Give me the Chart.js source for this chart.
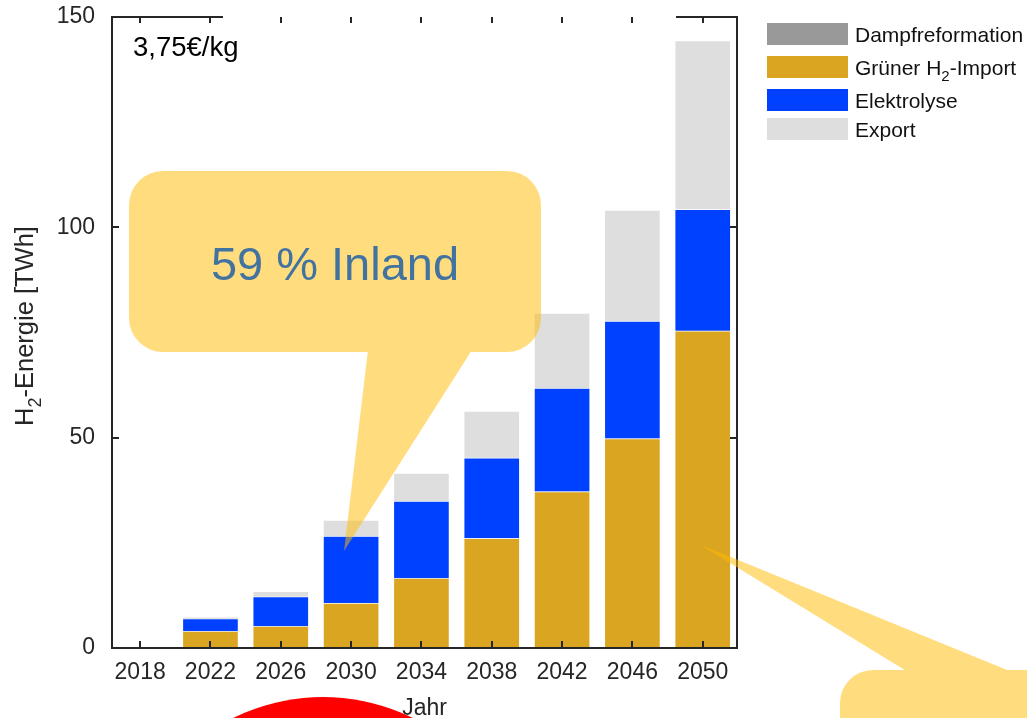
<!DOCTYPE html>
<html>
<head>
<meta charset="utf-8">
<script src="https://cdn.jsdelivr.net/npm/chart.js@4.4.1/dist/chart.umd.min.js"></script>
<style>
  html, body { margin: 0; padding: 0; background: #fff; }
  #wrap { position: relative; width: 1027px; height: 718px; overflow: hidden; }
</style>
</head>
<body>
<div id="wrap"><canvas id="chart" width="1027" height="718"></canvas></div>
<script>
// years on the x axis
const years = [2018, 2022, 2026, 2030, 2034, 2038, 2042, 2046, 2050];
const yTicks = [0, 50, 100, 150];

// TWh, stacked bottom-up
const dampfreformation = [0, 0, 0, 0, 0, 0, 0, 0, 0];
const gruenerImport    = [0, 4.0, 5.2, 10.7, 16.6, 26.1, 37.2, 49.8, 75.4];
const elektrolyse      = [0, 3.0, 7.0, 15.9, 18.3, 19.1, 24.6, 27.9, 28.9];
const exportH2         = [0, 0.4, 1.3, 3.8, 6.7, 11.1, 17.8, 26.4, 40.1];

const seriesLabels = ['Dampfreformation', 'Grüner H_2-Import', 'Elektrolyse', 'Export'];
const seriesColors = ['#999999', '#DAA520', '#0040FF', '#DEDEDE'];

const FONT = '"Liberation Sans", Arial, Helvetica, sans-serif';
const INK = '#262626';

const toPoints = arr => arr.map((v, i) => ({ x: years[i], y: v }));

const datasets = [dampfreformation, gruenerImport, elektrolyse, exportH2].map((arr, i) => ({
    label: seriesLabels[i],
    data: toPoints(arr),
    backgroundColor: seriesColors[i],
    borderColor: 'rgba(255,255,255,0.25)',
    borderWidth: 1,
    barThickness: 56
}));

// draws text with "_2" as a subscript
function drawSubText(ctx, text, x, y, size) {
    const parts = text.split('_2');
    let cx = x;
    parts.forEach((p, i) => {
        ctx.font = size + 'px ' + FONT;
        ctx.fillText(p, cx, y);
        cx += ctx.measureText(p).width;
        if (i < parts.length - 1) {
            ctx.font = Math.round(size * 0.72) + 'px ' + FONT;
            ctx.fillText('2', cx, y + size * 0.3);
            cx += ctx.measureText('2').width;
        }
    });
}
function subTextWidth(ctx, text, size) {
    const parts = text.split('_2');
    let w = 0;
    parts.forEach((p, i) => {
        ctx.font = size + 'px ' + FONT;
        w += ctx.measureText(p).width;
        if (i < parts.length - 1) {
            ctx.font = Math.round(size * 0.72) + 'px ' + FONT;
            w += ctx.measureText('2').width;
        }
    });
    return w;
}

const framePlugin = {
    id: 'frame',
    afterDatasetsDraw(chart) {
        const { ctx, chartArea: a, scales: { x, y } } = chart;
        ctx.save();
        ctx.strokeStyle = INK;
        ctx.lineWidth = 2;
        ctx.beginPath();
        // box
        ctx.moveTo(a.left, a.top); ctx.lineTo(a.left, a.bottom);
        ctx.lineTo(a.right, a.bottom); ctx.lineTo(a.right, a.top);
        ctx.moveTo(a.left - 1, a.top); ctx.lineTo(223, a.top);
        ctx.moveTo(676, a.top); ctx.lineTo(a.right + 1, a.top);
        // inward ticks
        years.forEach(v => {
            const px = Math.round(x.getPixelForValue(v));
            ctx.moveTo(px, a.bottom); ctx.lineTo(px, a.bottom - 7);
            ctx.moveTo(px, a.top); ctx.lineTo(px, a.top + 6);
        });
        yTicks.forEach(v => {
            const py = Math.round(y.getPixelForValue(v));
            ctx.moveTo(a.left, py); ctx.lineTo(a.left + 7, py);
            ctx.moveTo(a.right, py); ctx.lineTo(a.right - 7, py);
        });
        ctx.stroke();

        // price label
        ctx.fillStyle = '#000';
        ctx.font = '27.5px ' + FONT;
        ctx.textBaseline = 'alphabetic';
        ctx.fillText('3,75€/kg', 133, 56);

        // axis titles
        ctx.fillStyle = INK;
        ctx.font = '23px ' + FONT;
        ctx.textAlign = 'center';
        ctx.fillText('Jahr', (a.left + a.right) / 2, 715);
        ctx.textAlign = 'left';
        const ySize = 25.5;
        const yTitle = 'H_2-Energie [TWh]';
        const w = subTextWidth(ctx, yTitle, ySize);
        ctx.translate(33, 326);
        ctx.rotate(-Math.PI / 2);
        drawSubText(ctx, yTitle, -w / 2, 0, ySize);
        ctx.restore();

        // legend
        ctx.save();
        const rows = [23, 56, 89, 118];
        chart.data.datasets.forEach((ds, i) => {
            ctx.fillStyle = ds.backgroundColor;
            ctx.fillRect(767, rows[i], 81, 22);
            ctx.fillStyle = '#111';
            ctx.textBaseline = 'alphabetic';
            drawSubText(ctx, ds.label, 855, rows[i] + 19, 21);
        });
        ctx.restore();
    },
    afterDraw(chart) {
        const { ctx } = chart;
        ctx.save();
        // callout bubbles (same winding as roundRect so the union fills once)
        ctx.fillStyle = 'rgba(255,187,0,0.5)';
        ctx.beginPath();
        ctx.roundRect(129, 171, 412, 181, 34);
        ctx.moveTo(368, 350); ctx.lineTo(472, 350); ctx.lineTo(344, 551); ctx.closePath();
        ctx.fill();

        ctx.beginPath();
        ctx.roundRect(840, 670, 300, 120, 33);
        ctx.moveTo(699, 544); ctx.lineTo(1012, 672); ctx.lineTo(908, 672); ctx.closePath();
        ctx.fill();

        ctx.fillStyle = 'rgb(66,115,160)';
        ctx.font = '47px ' + FONT;
        ctx.textAlign = 'center';
        ctx.fillText('59 % Inland', 335, 280);

        // red disc at the bottom
        ctx.fillStyle = '#FF0000';
        ctx.beginPath();
        ctx.arc(323, 900, 203, 0, Math.PI * 2);
        ctx.fill();
        ctx.restore();
    }
};

new Chart(document.getElementById('chart'), {
    type: 'bar',
    data: { datasets },
    options: {
        responsive: false,
        animation: false,
        layout: { padding: { top: 17, right: 290, left: 0, bottom: 0 } },
        plugins: { legend: { display: false }, tooltip: { enabled: false } },
        scales: {
            x: {
                type: 'linear',
                stacked: true,
                offset: false,
                min: 2016.4,
                max: 2051.95,
                grid: { display: false, drawTicks: false, offset: false },
                border: { display: false },
                afterBuildTicks: s => { s.ticks = years.map(v => ({ value: v })); },
                afterFit: s => { s.height = 70; s.paddingLeft = 0; s.paddingRight = 0; },
                ticks: {
                    color: INK,
                    font: { family: FONT, size: 23 },
                    padding: 11,
                    maxRotation: 0,
                    autoSkip: false,
                    callback: v => String(v)
                }
            },
            y: {
                stacked: true,
                min: 0,
                max: 150,
                grid: { display: false, drawTicks: false },
                border: { display: false },
                afterBuildTicks: s => { s.ticks = yTicks.map(v => ({ value: v })); },
                afterFit: s => { s.width = 112; s.paddingTop = 0; s.paddingBottom = 0; },
                ticks: {
                    color: INK,
                    font: { family: FONT, size: 23 },
                    padding: 17
                }
            }
        }
    },
    plugins: [framePlugin]
});
</script>
</body>
</html>
